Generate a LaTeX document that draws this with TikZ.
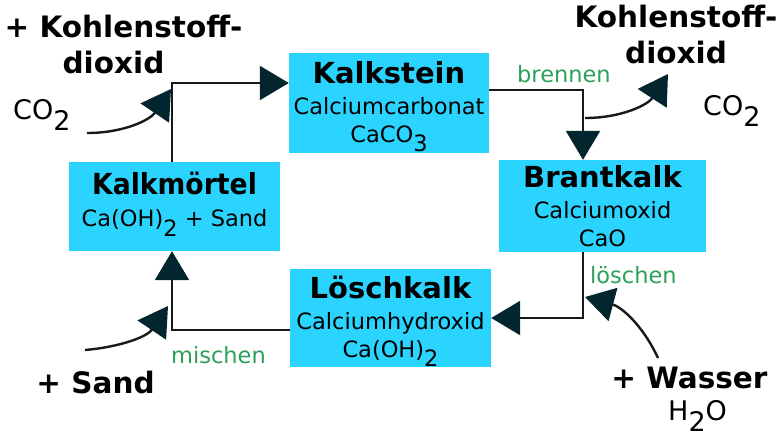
\documentclass[tikz,border=0pt]{standalone}
\usepackage{fontspec}
\setmainfont{DejaVu Sans}
\usetikzlibrary{arrows.meta}
\definecolor{kalkblau}{HTML}{2AD4FF}
\definecolor{vorganggruen}{HTML}{2CA05A}
\definecolor{pfeilspitze}{HTML}{03262E}
\newcommand{\tief}[1]{\raisebox{-0.42em}[\height][0pt]{#1}}
\newcommand{\titel}[1]{{\fontsize{29}{31}\selectfont\bfseries #1}}

\begin{document}
\begin{tikzpicture}[x=1pt, y=1pt,
				stoff/.style={rectangle, fill=kalkblau, inner sep=0pt, align=center,
					font=\fontsize{22.5}{28}\selectfont},
				zusatz/.style={inner sep=0pt, anchor=base, align=center,
					font=\fontsize{29.5}{35.5}\selectfont\bfseries},
				formel/.style={inner sep=0pt, anchor=base west, font=\fontsize{27}{30}\selectfont},
				vorgang/.style={inner sep=0pt, anchor=base west, text=vorganggruen,
					font=\fontsize{22.5}{26}\selectfont},
				pfeil/.style={line width=2.4pt, draw=black!90,
					-{Triangle[length=29pt, width=34pt, color=pfeilspitze]}},
				zufuhr/.style={pfeil}
				]
				\useasboundingbox (0,0) rectangle (779,-437);

				% Stoffe im Kreislauf
				\node[stoff, minimum width=200pt, minimum height=100pt] (kalkstein) at (389,-103)
					{\titel{Kalkstein}\\[3pt]Calciumcarbonat\\CaCO\tief{3}\rule[-3pt]{0pt}{3pt}};
				\node[stoff, minimum width=207pt, minimum height=92pt] (brantkalk) at (602.5,-206)
					{\titel{Brantkalk}\\[3pt]Calciumoxid\\CaO};
				\node[stoff, minimum width=201pt, minimum height=98pt] (loeschkalk) at (390.5,-318)
					{\titel{Löschkalk}\\[3pt]Calciumhydroxid\\Ca(OH)\tief{2}};
				\node[stoff, minimum width=211pt, minimum height=89pt] (kalkmoertel) at (174.5,-206.5)
					{\titel{\scalebox{0.92}[1]{Kalkmörtel}}\\[4pt]Ca(OH)\tief{2} + Sand\rule[-14pt]{0pt}{14pt}};

				% Zugaben und Abgaben
				\node[zusatz] (co2zu) at (123.5,-73) {+ Kohlenstoff-\\\hspace*{-20pt}dioxid};
				\node[formel] (co2zu-f) at (13,-119) {CO\tief{2}};
				\node[zusatz] (co2ab) at (676,-63) {Kohlenstoff-\\dioxid};
				\node[formel] (co2ab-f) at (703,-115) {CO\tief{2}};
				\node[zusatz] (wasser) at (689.5,-388) {+ Wasser};
				\node[formel] (wasser-f) at (668,-420) {H\tief{2}O};
				\node[zusatz] (sand) at (95.5,-393) {+ Sand};

				% Vorgaenge
				\node[vorgang] (brennen) at (517,-82) {brennen};
				\node[vorgang] (loeschen) at (590,-283) {löschen};
				\node[vorgang] (mischen) at (171,-363) {mischen};

				\coordinate (co2zu-a) at (87,-133);
				\coordinate (co2zu-b) at (171,-89);
				\coordinate (co2ab-a) at (585,-118);
				\coordinate (co2ab-b) at (668,-74);
				\coordinate (wasser-a) at (658,-358);
				\coordinate (wasser-b) at (585,-297);
				\coordinate (sand-a) at (85,-350);
				\coordinate (sand-b) at (168,-306);

				% Kreislauf
				\draw[pfeil] ([xshift=-2.5pt]kalkmoertel.north) |- ([yshift=20pt]kalkstein.west);
				\draw[pfeil] ([yshift=13pt]kalkstein.east) -| ([xshift=-19.5pt]brantkalk.north);
				\draw[pfeil] ([xshift=-19.5pt]brantkalk.south) |- (loeschkalk.east);
				\draw[pfeil] ([yshift=-12pt]loeschkalk.west) -| ([xshift=-2.5pt]kalkmoertel.south);

				\draw[zufuhr] (co2zu-a) to[out=0, in=236] (co2zu-b);
				\draw[zufuhr] (co2ab-a) to[out=0, in=237] (co2ab-b);
				\draw[zufuhr] (wasser-a) to[out=115, in=-15] (wasser-b);
				\draw[zufuhr] (sand-a) to[out=5, in=236] (sand-b);
			\end{tikzpicture}
\end{document}
